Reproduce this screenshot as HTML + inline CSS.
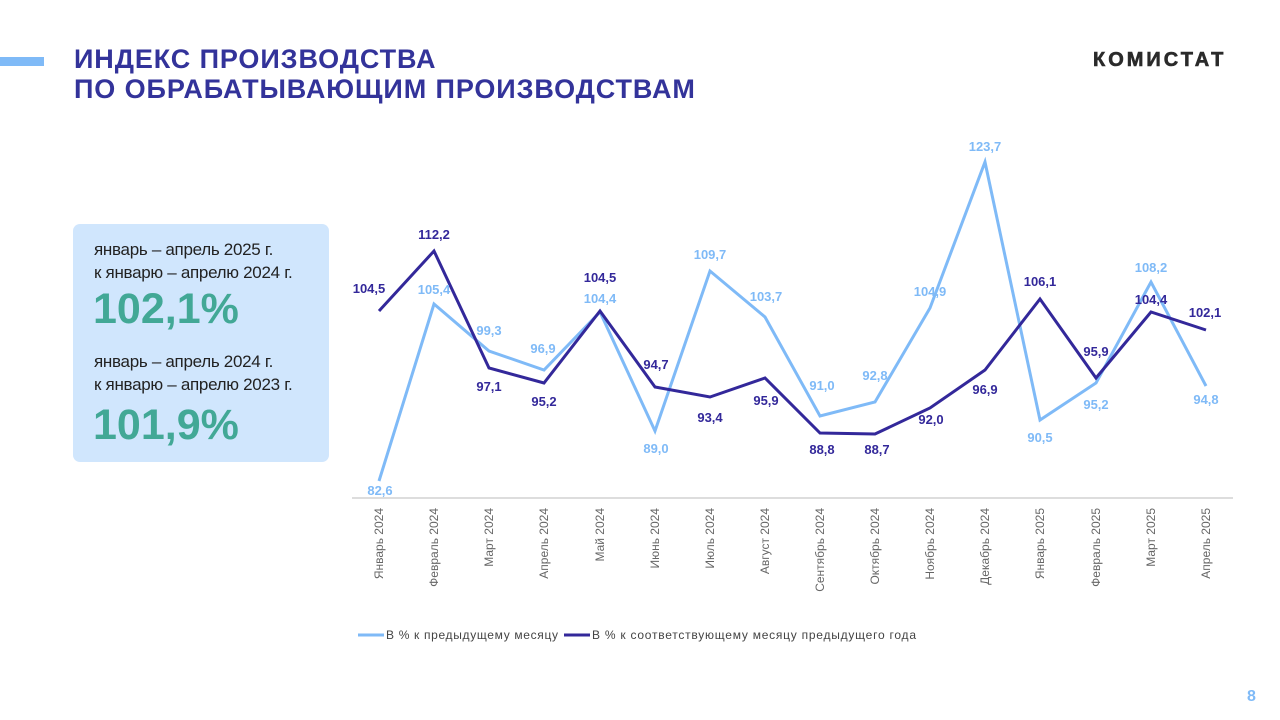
<!DOCTYPE html>
<html><head><meta charset="utf-8"><style>
body{margin:0;width:1280px;height:720px;background:#fff;position:relative;overflow:hidden;font-family:"Liberation Sans",sans-serif}
.t{position:absolute;left:74px;top:44px;font-weight:bold;font-size:27px;line-height:30px;color:#33339a;letter-spacing:0.9px}
.bar{position:absolute;left:0;top:57px;width:44px;height:9px;background:#7fbaf7}
.logo{position:absolute;left:1093px;top:49px;font-weight:900;font-size:20px;letter-spacing:3px;color:#2a2a2a;-webkit-text-stroke:0.6px #2a2a2a}
.box{position:absolute;left:73px;top:224px;width:256px;height:238px;background:#d0e6fd;border-radius:7px}
.s{position:absolute;left:94px;font-size:17px;line-height:23px;color:#222;letter-spacing:-0.3px}
.big{position:absolute;left:93px;font-weight:bold;font-size:43px;color:#42a896}
.pg{position:absolute;left:1247px;top:688px;font-weight:bold;font-size:16px;color:#7fbaf7}
</style></head><body>
<div class="bar"></div>
<div class="t">ИНДЕКС ПРОИЗВОДСТВА<br>ПО ОБРАБАТЫВАЮЩИМ ПРОИЗВОДСТВАМ</div>
<div class="logo">КОМИСТАТ</div>
<div class="box"></div>
<div class="s" style="top:238px">январь – апрель 2025 г.<br>к январю – апрелю 2024 г.</div>
<div class="big" style="top:285px">102,1%</div>
<div class="s" style="top:350px">январь – апрель 2024 г.<br>к январю – апрелю 2023 г.</div>
<div class="big" style="top:401px">101,9%</div>
<div class="pg">8</div>
<svg width="1280" height="720" style="position:absolute;left:0;top:0" font-family="Liberation Sans, sans-serif">
<line x1="352" y1="498" x2="1233" y2="498" stroke="#bbb" stroke-width="1"/>
<polyline fill="none" stroke="#7fbaf7" stroke-width="3" points="379,481 434,304 489,351 544,370 600,312 655,431 710,271 765,317 820,416 875,402 930,308 985,162 1040,420 1096,383 1151,282 1206,386"/>
<polyline fill="none" stroke="#33289a" stroke-width="3" points="379,311 434,251 489,368 544,383 600,311 655,387 710,397 765,378 820,433 875,434 930,408 985,370 1040,299 1096,378 1151,312 1206,330"/>
<g font-size="13" font-weight="bold" fill="#7fbaf7" text-anchor="middle">
<text x="380" y="495">82,6</text><text x="434" y="294">105,4</text><text x="489" y="335">99,3</text><text x="543" y="353">96,9</text><text x="600" y="303">104,4</text><text x="656" y="453">89,0</text><text x="710" y="259">109,7</text><text x="766" y="301">103,7</text><text x="822" y="390">91,0</text><text x="875" y="380">92,8</text><text x="930" y="296">104,9</text><text x="985" y="151">123,7</text><text x="1040" y="442">90,5</text><text x="1096" y="409">95,2</text><text x="1151" y="272">108,2</text><text x="1206" y="404">94,8</text>
</g>
<g font-size="13" font-weight="bold" fill="#33289a" text-anchor="middle">
<text x="369" y="293">104,5</text><text x="434" y="239">112,2</text><text x="489" y="391">97,1</text><text x="544" y="406">95,2</text><text x="600" y="282">104,5</text><text x="656" y="369">94,7</text><text x="710" y="422">93,4</text><text x="766" y="405">95,9</text><text x="822" y="454">88,8</text><text x="877" y="454">88,7</text><text x="931" y="424">92,0</text><text x="985" y="394">96,9</text><text x="1040" y="286">106,1</text><text x="1096" y="356">95,9</text><text x="1151" y="304">104,4</text><text x="1205" y="317">102,1</text>
</g>
<g font-size="12" fill="#666" text-anchor="end">
<text transform="translate(383,508) rotate(-90)">Январь 2024</text>
<text transform="translate(438,508) rotate(-90)">Февраль 2024</text>
<text transform="translate(493,508) rotate(-90)">Март 2024</text>
<text transform="translate(548,508) rotate(-90)">Апрель 2024</text>
<text transform="translate(604,508) rotate(-90)">Май 2024</text>
<text transform="translate(659,508) rotate(-90)">Июнь 2024</text>
<text transform="translate(714,508) rotate(-90)">Июль 2024</text>
<text transform="translate(769,508) rotate(-90)">Август 2024</text>
<text transform="translate(824,508) rotate(-90)">Сентябрь 2024</text>
<text transform="translate(879,508) rotate(-90)">Октябрь 2024</text>
<text transform="translate(934,508) rotate(-90)">Ноябрь 2024</text>
<text transform="translate(989,508) rotate(-90)">Декабрь 2024</text>
<text transform="translate(1044,508) rotate(-90)">Январь 2025</text>
<text transform="translate(1100,508) rotate(-90)">Февраль 2025</text>
<text transform="translate(1155,508) rotate(-90)">Март 2025</text>
<text transform="translate(1210,508) rotate(-90)">Апрель 2025</text>
</g>
<line x1="358" y1="635" x2="384" y2="635" stroke="#7fbaf7" stroke-width="3"/>
<text x="386" y="639" font-size="12" fill="#444" textLength="172" lengthAdjust="spacing">В % к предыдущему месяцу</text>
<line x1="564" y1="635" x2="590" y2="635" stroke="#33289a" stroke-width="3"/>
<text x="592" y="639" font-size="12" fill="#444" textLength="324" lengthAdjust="spacing">В % к соответствующему  месяцу  предыдущего года</text>
</svg>
</body></html>
